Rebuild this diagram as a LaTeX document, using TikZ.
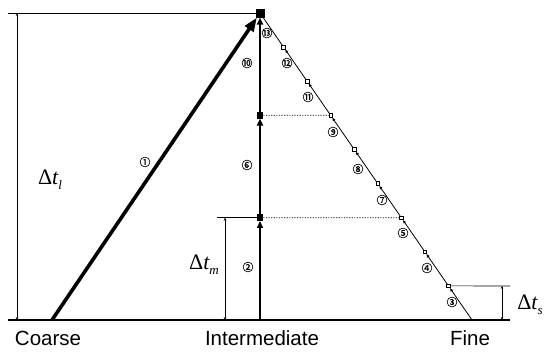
\documentclass[tikz,border=0pt]{standalone}
\usepackage{fontspec}
\setmainfont{Liberation Sans}
\newfontfamily\circfont[FakeBold=1]{Noto Sans CJK SC}
\newfontfamily\dfont{Liberation Serif}
\newcommand{\dimlab}[1]{{\dfont Δ\itshape t\raisebox{-5pt}{\fontsize{13}{13}\selectfont #1}}}
\usetikzlibrary{arrows.meta}
\tikzset{
  coarseline/.style={line width=3.6pt,-{Triangle[length=14pt,width=10pt]}},
  interline/.style={line width=2.3pt,-{Triangle[length=7pt,width=6pt]}},
  fineline/.style={line width=0.8pt,-{Latex[length=4pt,width=3pt]}},
  finemark/.style={draw,line width=0.6pt,fill=white,minimum size=3.6pt,inner sep=0pt,outer sep=0pt},
  intermark/.style={fill=black,minimum size=6.5pt,inner sep=0pt,outer sep=0pt},
  topmark/.style={fill=black,minimum size=9pt,inner sep=0pt,outer sep=0pt},
  dimline/.style={line width=0.5pt,{Stealth[length=3pt,width=2.5pt]}-{Stealth[length=3pt,width=2.5pt]}},
  thinline/.style={line width=0.7pt},
  dotline/.style={line width=0.7pt,dash pattern=on 1.2pt off 1.4pt},
  circ/.style={font=\circfont\fontsize{11}{11}\selectfont,inner sep=0pt},
  axislabel/.style={font=\fontsize{20.5}{22}\selectfont,inner sep=0pt,anchor=base},
  dlabel/.style={font=\fontsize{22}{24}\selectfont,inner sep=0pt}
}
\begin{document}
\begin{tikzpicture}[x=1pt,y=-1pt]
\useasboundingbox (0,0) rectangle (548,351);
% key points
\coordinate (C) at (52,320);
\coordinate (I0) at (260,320);
\coordinate (F0) at (472,320);
\coordinate (BL) at (8,320);
\coordinate (BR) at (510,320);
\coordinate (TL) at (8,13);
\node[topmark] (T) at (260,13) {};
\node[intermark] (I1) at (260,217.7) {};
\node[intermark] (I2) at (260,115.3) {};
\foreach \k in {1,...,8}{
  \node[finemark] (F\k) at ({472-23.556*\k},{320-34.11*\k}) {};
}
% base and frame lines
\draw[thinline,line width=1.1pt] (BL) -- (BR);
\draw[thinline] (TL) -- (T.west);
% dimension Delta t_l
\coordinate (L0) at (17,13);
\coordinate (L1) at (17,320);
\draw[dimline] (L0) -- (L1);
% dimension Delta t_m
\coordinate (M0) at (217,217.7);
\coordinate (M1) at (225,217.7);
\coordinate (M2) at (225,320);
\draw[thinline] (M0) -- (I1.west);
\draw[dimline] (M1) -- (M2);
% dimension Delta t_s
\coordinate (S0) at (510,285.9);
\coordinate (S1) at (502,285.9);
\coordinate (S2) at (502,320);
\draw[thinline] (F1.east) -- (S0);
\draw[dimline] (S1) -- (S2);
% dotted levels
\draw[dotline] (I1.east) -- (F3.west);
\draw[dotline] (I2.east) -- (F6.west);
% coarse
\draw[coarseline] (C) -- (T);
% intermediate
\draw[interline] (I0) -- (I1);
\draw[interline] (I1) -- (I2);
\draw[interline] (I2) -- (T);
% fine
\draw[fineline] (F0) -- (F1);
\foreach \a/\b in {1/2,2/3,3/4,4/5,5/6,6/7,7/8}{
  \draw[fineline] (F\a) -- (F\b);
}
\draw[line width=0.8pt] (F8) -- (T);
% redraw markers on top
\node[topmark] at (T) {};
\node[intermark] at (I1) {};
\node[intermark] at (I2) {};
% step labels
\node[circ] (n1) at (145,162) {①};
\node[circ] (n2) at (248,267) {②};
\node[circ] (n6) at (247,165) {⑥};
\node[circ] (n10) at (247,63) {⑩};
\node[circ] (n3) at (452,302) {③};
\node[circ] (n4) at (427,268) {④};
\node[circ] (n5) at (403,233) {⑤};
\node[circ] (n7) at (382,200) {⑦};
\node[circ] (n8) at (358,169) {⑧};
\node[circ] (n9) at (333,132) {⑨};
\node[circ] (n11) at (308,97) {⑪};
\node[circ] (n12) at (287,63) {⑫};
\node[circ] (n13) at (267,33) {⑬};
% dimension labels
\node[dlabel] (dl) at (50,180) {\dimlab{l}};
\node[dlabel] (dm) at (204,265) {\dimlab{m}};
\node[dlabel] (ds) at (530,305) {\dimlab{s}};
% axis labels
\node[axislabel] (coarse) at (48,345.5) {Coarse};
\node[axislabel] (inter) at (262,345.5) {Intermediate};
\node[axislabel] (fine) at (470,345) {Fine};
\end{tikzpicture}
\end{document}
